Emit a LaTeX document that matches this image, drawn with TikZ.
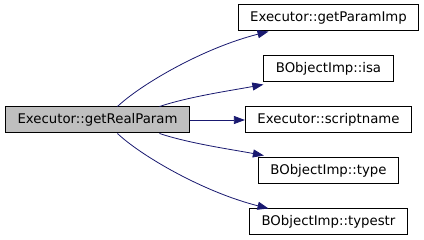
\documentclass[tikz,border=0pt]{standalone}
\usepackage{fontspec}
\setmainfont{DejaVu Sans}
\usetikzlibrary{arrows.meta,positioning}
\definecolor{chamada}{RGB}{25,25,112}
\definecolor{cinza}{RGB}{191,191,191}

\begin{document}
\begin{tikzpicture}[x=1pt,y=-1pt,
        node distance=24pt,
        funcao/.style={draw=black,line width=1pt,fill=white,minimum height=26pt,
                       inner xsep=12pt,inner ysep=2pt,font=\fontsize{13.3}{15}\selectfont},
        atual/.style={funcao,fill=cinza},
        seta/.style={-{Triangle[length=11pt,width=8pt]},line width=0.8pt,chamada}]
      \useasboundingbox (0,0) rectangle (424,240);
      \node[atual] (real) at (97.5,120) {Executor::getRealParam};
      \node[funcao] (script) at (328.5,120) {Executor::scriptname};
      \node[funcao,above=of script] (isa) {BObjectImp::isa};
      \node[funcao,above=of isa] (param) {Executor::getParamImp};
      \node[funcao,below=of script] (tipo) {BObjectImp::type};
      \node[funcao,below=of tipo] (tipostr) {BObjectImp::typestr};
      \draw[seta] ([xshift=20pt]real.north) .. controls +(22,-21) and +(-67,17) .. ([xshift=-60pt]param.south);
      \draw[seta] ([xshift=62pt]real.north) .. controls +(30,-10) and +(-32,6) .. ([yshift=-2pt]isa.south west);
      \draw[seta] (real) -- (script);
      \draw[seta] ([xshift=62pt]real.south) .. controls +(30,10) and +(-32,-6) .. ([yshift=2pt,xshift=6pt]tipo.north west);
      \draw[seta] ([xshift=20pt]real.south) .. controls +(22,21) and +(-67,-17) .. ([xshift=-60pt]tipostr.north);
    \end{tikzpicture}
\end{document}
